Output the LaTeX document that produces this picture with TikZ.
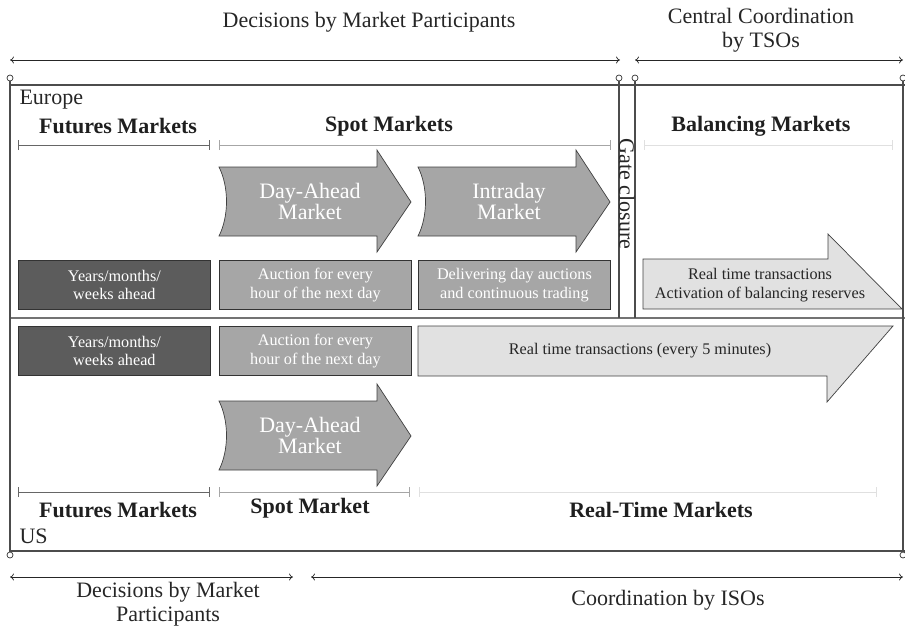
\documentclass[tikz,border=0pt]{standalone}
\usepackage{fontspec}
\setmainfont{Liberation Serif}
\usetikzlibrary{positioning,arrows.meta}
\definecolor{darkcell}{HTML}{5C5C5C}
\definecolor{midcell}{HTML}{A6A6A6}
\definecolor{lightcell}{HTML}{E1E1E1}
\definecolor{ink}{HTML}{262626}

\begin{document}
\begin{tikzpicture}[x=1pt,y=-1pt]
\tikzset{big/.style={font=\fontsize{22}{23.5}\selectfont,text=ink,align=center}}
\tikzset{head/.style={font=\fontsize{22}{22}\selectfont\bfseries,text=black!88}}
\tikzset{small/.style={font=\fontsize{16.2}{18.5}\selectfont,align=center}}
\tikzset{cell/.style={small,draw=black!80,line width=0.8pt,anchor=north west,
  minimum width=192pt,minimum height=49pt,inner sep=0pt,text=white}}
\tikzset{span/.style={{To[length=4pt,width=7pt]}-{To[length=4pt,width=7pt]},line width=0.7pt,draw=ink}}
\tikzset{brace/.style={{Bar[width=10pt]}-{Bar[width=10pt]},line width=0.8pt}}
\tikzset{frame/.style={line width=1.2pt,draw=black!70}}
\tikzset{pin/.style={circle,draw=black!80,line width=0.7pt,minimum size=6pt,inner sep=0pt}}
\tikzset{mktarrow/.pic={
  \path[draw=black!75,fill=midcell,line width=0.7pt]
    (0,17) -- (158,17) -- (158,0) -- (192,52) -- (158,102) -- (158,86) -- (0,86)
    .. controls (10,66) and (10,37) .. (0,17) -- cycle;}}
\useasboundingbox (0,0) rectangle (905,627);
\clip (0,0) rectangle (905,627);

% top spans
\coordinate (tl) at (10,60);  \coordinate (tm) at (620,60);
\coordinate (tn) at (635,60); \coordinate (tr) at (903,60);
\draw[span] (tl) -- (tm);
\draw[span] (tn) -- (tr);
\node[big] (decide) at (369,22) {Decisions by Market Participants};
\node[big] (tso) at (761,30) {Central Coordination\\by TSOs};

% frame with pins
\node[pin] (p1) at (10,78) {};
\node[pin] (p2) at (619,78) {};
\node[pin] (p3) at (635,78) {};
\node[pin] (p4) at (903,78) {};
\node[pin] (p5) at (10,555) {};
\node[pin] (p6) at (903,555) {};
\draw[frame] (10,85) -- (905,85);
\draw[frame] (10,551) -- (905,551);
\draw[line width=1.5pt,draw=black!55] (10,318) -- (905,318);
\draw[frame] (p1.south) -- (p5.north);
\draw[frame] (p4.south) -- (p6.north);
\draw[frame] (p2.south) -- (619,318);
\draw[frame] (p3.south) -- (635,318);
\node[big,rotate=-90] (gate) at (627,194) {Gate closure};

% Europe
\node[big,anchor=west] (eu) at (16,100) {Europe};
\node[head] (eufut) at (118,126) {Futures Markets};
\node[head] (euspot) at (389,126) {Spot Markets};
\node[head] (eubal) at (761,126) {Balancing Markets};
\draw[brace,draw=black!60] (18,145) -- (210,145);
\draw[brace,draw=black!35] (219,145) -- (611,145);
\draw[brace,draw=black!12] (644,145) -- (893,145);
\pic at (219,150) {mktarrow};
\pic at (418,150) {mktarrow};
\node[big,text=white,font=\fontsize{22}{19}\selectfont] (euda) at (310,201) {Day-Ahead\\Market};
\node[big,text=white,font=\fontsize{22}{19}\selectfont] (euid) at (509,201) {Intraday\\Market};
\node[cell,fill=darkcell] (euc1) at (18,260) {Years/months/\\weeks ahead};
\node[cell,fill=midcell] (euc2) at (219,260) {Auction for every\\hour of the next day};
\node[cell,fill=midcell] (euc3) at (418,260) {Delivering day auctions\\and continuous trading};
\path[draw=black!75,fill=lightcell,line width=0.7pt]
  (643,259) -- (828,259) -- (828,234) -- (902,309) -- (643,309) -- cycle;
\node[small,text=ink] (eurt) at (760,285) {Real time transactions\\Activation of balancing reserves};

% US
\node[cell,fill=darkcell] (usc1) at (18,326) {Years/months/\\weeks ahead};
\node[cell,fill=midcell] (usc2) at (219,326) {Auction for every\\hour of the next day};
\path[draw=black!75,fill=lightcell,line width=0.7pt]
  (418,326) -- (893,326) -- (827,402) -- (827,376) -- (418,376) -- cycle;
\node[small,text=ink] (usrt) at (640,351) {Real time transactions (every 5 minutes)};
\pic at (219,384) {mktarrow};
\node[big,text=white,font=\fontsize{22}{19}\selectfont] (usda) at (310,435) {Day-Ahead\\Market};
\draw[brace,draw=black!60] (18,492) -- (210,492);
\draw[brace,draw=black!35] (219,492) -- (410,492);
\draw[brace,draw=black!12] (419,492) -- (877,492);
\node[head] (usfut) at (118,510) {Futures Markets};
\node[head] (usspot) at (310,508) {Spot Market};
\node[head] (usrtm) at (661,510) {Real-Time Markets};
\node[big,anchor=west] (us) at (16,536) {US};

% bottom spans
\coordinate (bl) at (10,577);  \coordinate (bm) at (293,577);
\coordinate (bn) at (311,577); \coordinate (br) at (903,577);
\draw[span] (bl) -- (bm);
\draw[span] (bn) -- (br);
\node[big] (usdecide) at (168,604) {Decisions by Market\\Participants};
\node[big] (iso) at (668,600) {Coordination by ISOs};
\end{tikzpicture}
\end{document}
